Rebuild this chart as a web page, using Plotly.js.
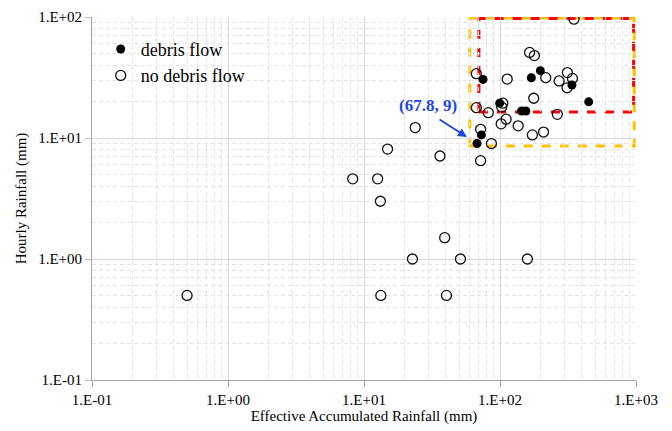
<!DOCTYPE html>
<html>
<head>
<meta charset="utf-8">
<script src="https://cdn.plot.ly/plotly-3.0.1.min.js"></script>
<style>html,body{margin:0;padding:0;background:#fff;}#chart{width:672px;height:431px;}</style>
</head>
<body>
<div id="chart"></div>
<script>
// ---- data ----
const debrisX = [67.8, 73, 75, 99.5, 144, 155, 170, 198, 338, 449];
const debrisY = [9, 10.6, 30.5, 19.4, 16.7, 16.7, 31.5, 36, 27.4, 19.9];

const noDebrisX = [350, 165, 179, 67, 113, 217, 272, 313, 341, 311, 177, 67, 82, 105, 103, 264, 111, 102, 136, 209, 173, 72, 86.5, 72, 23.8, 14.9, 36.2, 8.26, 12.6, 13.2, 39.2, 22.7, 51.2, 159, 0.5, 13.3, 40.4];
const noDebrisY = [96, 51, 48, 34, 30.7, 31.5, 29.6, 34.7, 31.1, 26, 21.3, 17.8, 16.2, 19.4, 18, 15.7, 14.3, 13.1, 12.6, 11.2, 10.6, 11.8, 9, 6.5, 12.2, 8.1, 7.1, 4.6, 4.6, 3.0, 1.5, 1.0, 1.0, 1.0, 0.5, 0.5, 0.5];

const xTickVals = [0.1, 1, 10, 100, 1000];
const xTickText = ["1.E-01", "1.E+00", "1.E+01", "1.E+02", "1.E+03"];
const yTickVals = [0.1, 1, 10, 100];
const yTickText = ["1.E-01", "1.E+00", "1.E+01", "1.E+02"];

// threshold boxes
const yellowBox = {x0: 60, x1: 970, y0: 8.6, y1: 98};
const redBox = {x0: 70, x1: 960, y0: 16.4, y1: 97};
// annotated point
const annX = 67.8, annY = 9;

const SERIF = 'Times New Roman, serif';

const traces = [
  {
    type: "scatter", mode: "markers", name: "no debris flow",
    x: noDebrisX, y: noDebrisY, legendrank: 2,
    marker: {symbol: "circle-open", size: 10, color: "#111111", line: {width: 1.3}}
  },
  {
    type: "scatter", mode: "markers", name: "debris flow",
    x: debrisX, y: debrisY, legendrank: 1,
    marker: {symbol: "circle", size: 9, color: "#000000"}
  }
];

const minorGrid = {tickmode: "linear", dtick: "D1", showgrid: true, gridcolor: "#e3e3e3", griddash: "4px,3px", gridwidth: 1, ticks: ""};

const layout = {
  width: 672, height: 431,
  margin: {l: 92, r: 36, t: 17, b: 51},
  paper_bgcolor: "#ffffff", plot_bgcolor: "#ffffff",
  font: {family: SERIF, size: 15, color: "#000"},
  showlegend: true,
  legend: {x: 0.016, y: 0.962, xanchor: "left", yanchor: "top", bgcolor: "rgba(0,0,0,0)", font: {family: SERIF, size: 18, color: "#000"}, itemsizing: "trace"},
  xaxis: {
    type: "log", range: [-1, 3],
    tickmode: "array", tickvals: xTickVals, ticktext: xTickText,
    showgrid: true, gridcolor: "#d9d9d9", gridwidth: 1,
    showline: true, linecolor: "#a6a6a6", linewidth: 1,
    ticks: "outside", ticklen: 6, tickcolor: "#a6a6a6",
    tickfont: {family: SERIF, size: 15, color: "#000"},
    zeroline: false, minor: minorGrid,
    title: {text: "Effective Accumulated Rainfall (mm)", font: {family: SERIF, size: 15, color: "#000"}, standoff: 0}
  },
  yaxis: {
    type: "log", range: [-1, 2],
    tickmode: "array", tickvals: yTickVals, ticktext: yTickText,
    showgrid: true, gridcolor: "#d9d9d9", gridwidth: 1,
    showline: true, linecolor: "#a6a6a6", linewidth: 1,
    ticks: "outside", ticklen: 6, tickcolor: "#bfbfbf",
    tickfont: {family: SERIF, size: 15, color: "#000"},
    zeroline: false, minor: minorGrid,
    title: {text: "Hourly Rainfall (mm)", font: {family: SERIF, size: 15, color: "#000"}, standoff: 7}
  },
  shapes: [
    {type: "rect", xref: "x", yref: "y", x0: yellowBox.x0, x1: yellowBox.x1, y0: yellowBox.y0, y1: yellowBox.y1,
     line: {color: "#FFC000", width: 3, dash: "dash"}, fillcolor: "rgba(0,0,0,0)", layer: "below"},
    {type: "rect", xref: "x", yref: "y", x0: redBox.x0, x1: redBox.x1, y0: redBox.y0, y1: redBox.y1,
     line: {color: "#FF0000", width: 3, dash: "dash"}, fillcolor: "rgba(0,0,0,0)", layer: "below"}
  ],
  annotations: [
    {xref: "x", yref: "y", x: Math.log10(annX), y: Math.log10(annY), ax: -39, ay: -25, axref: "pixel", ayref: "pixel",
     text: "", showarrow: true, arrowhead: 2, arrowsize: 1, arrowwidth: 1.8, arrowcolor: "#1f45e8", standoff: 12},
    {xref: "paper", yref: "paper", x: 0.618, y: 0.755, xanchor: "center", yanchor: "middle", showarrow: false,
     text: "<b>(" + annX + ", " + annY + ")</b>", font: {family: SERIF, size: 17, color: "#1f45e8"}}
  ]
};

Plotly.newPlot("chart", traces, layout, {displayModeBar: false, responsive: false});
</script>
</body>
</html>
